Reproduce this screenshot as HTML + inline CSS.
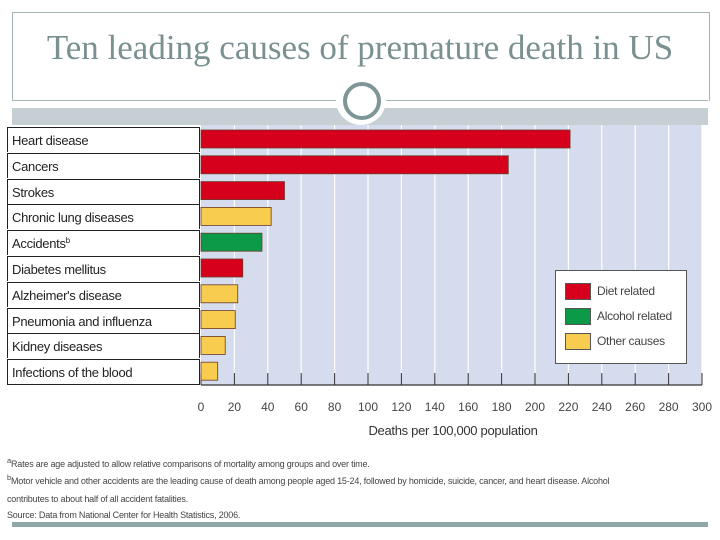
<!DOCTYPE html>
<html><head><meta charset="utf-8"><style>
body{margin:0;width:720px;height:540px;background:#fff;overflow:hidden;position:relative;font-family:"Liberation Sans",sans-serif}
.abs{position:absolute}
.lbl{position:absolute;left:7px;width:193px;height:25px;border:1px solid #222;border-bottom:none;font-size:13px;line-height:26px;padding-left:4px;box-sizing:border-box;color:#222;background:#fff;letter-spacing:-0.3px;white-space:nowrap;overflow:hidden}
.fn{position:absolute;left:7px;font-size:9px;color:#444;white-space:nowrap;letter-spacing:-0.2px}
</style></head><body>
<div class="abs" style="left:12px;top:12px;width:696px;height:88px;border:1px solid #a8b4b4;border-bottom:none"></div>
<div class="abs" style="left:12px;top:28px;width:696px;text-align:center;font-family:'Liberation Serif',serif;font-size:35px;color:#7b9090;white-space:nowrap">Ten leading causes of premature death in US</div>
<div class="abs" style="left:12px;top:100px;width:696px;height:1px;background:#a8b4b4"></div>
<div class="abs" style="left:12px;top:108px;width:696px;height:17px;background:#c6d0d4"></div>
<div class="abs" style="left:336px;top:75px;width:50px;height:50px;border-radius:50%;background:#fff"></div>
<div class="abs" style="left:343px;top:82px;width:30px;height:30px;border-radius:50%;border:4px solid #7e9696"></div>
<div class="abs" style="left:12px;top:522px;width:696px;height:5px;background:#8ea8a7"></div>
<svg class="abs" style="left:0;top:0" width="720" height="540" id="chart"></svg>
<div id="labels"></div>
<div class="abs" style="left:555px;top:270px;width:130px;height:92px;border:1px solid #555;background:#fff;font-size:12px;color:#444;letter-spacing:-0.3px;white-space:nowrap">
<div style="position:absolute;left:9px;top:12px"><span style="display:inline-block;width:24px;height:15px;background:#d6001c;border:1px solid #555;vertical-align:middle"></span><span style="margin-left:6px">Diet related</span></div>
<div style="position:absolute;left:9px;top:37px"><span style="display:inline-block;width:24px;height:15px;background:#0c9a48;border:1px solid #555;vertical-align:middle"></span><span style="margin-left:6px">Alcohol related</span></div>
<div style="position:absolute;left:9px;top:62px"><span style="display:inline-block;width:24px;height:15px;background:#f7cc4f;border:1px solid #555;vertical-align:middle"></span><span style="margin-left:6px">Other causes</span></div>
</div>
<div class="fn" style="top:456px"><sup>a</sup>Rates are age adjusted to allow relative comparisons of mortality among groups and over time.</div>
<div class="fn" style="top:473px"><sup>b</sup>Motor vehicle and other accidents are the leading cause of death among people aged 15-24, followed by homicide, suicide, cancer, and heart disease. Alcohol</div>
<div class="fn" style="top:494px">contributes to about half of all accident fatalities.</div>
<div class="fn" style="top:510px">Source: Data from National Center for Health Statistics, 2006.</div>
<script>
const categories=["Heart disease","Cancers","Strokes","Chronic lung diseases","Accidents","Diabetes mellitus","Alzheimer's disease","Pneumonia and influenza","Kidney diseases","Infections of the blood"];
const values=[221,184,50,42,36.5,25,22,20.5,14.5,10];
const groups=["diet","diet","diet","other","alcohol","diet","other","other","other","other"];
const ticks=[0,20,40,60,80,100,120,140,160,180,200,220,240,260,280,300];
const colors={diet:"#d6001c",alcohol:"#0c9a48",other:"#f7cc4f"};
const NS="http://www.w3.org/2000/svg";
const svg=document.getElementById('chart');
const x0=201,x1=702,top0=127,rowH=25.8;
const xs=v=>x0+(v/300)*(x1-x0);
function mk(t,a){const e=document.createElementNS(NS,t);for(const k in a)e.setAttribute(k,a[k]);svg.appendChild(e);return e;}
const bg=mk('rect',{x:x0,y:125,width:x1-x0,height:260,fill:'#d5dcee'});


ticks.forEach(t=>{
 if(t>0){const g=mk('line',{x1:xs(t),x2:xs(t),y1:125,y2:375,stroke:'#fff','stroke-width':1.2});
 
 }
 const tk=mk('line',{x1:xs(t),x2:xs(t),y1:373,y2:385,stroke:'#333','stroke-width':1});
 
 
 const tl=mk('text',{x:xs(t),y:411,'text-anchor':'middle','font-size':12,fill:'#444','font-family':'Liberation Sans, sans-serif'});
 tl.textContent=t;
 
 
});
const ax=mk('line',{x1:x0,x2:x1,y1:385,y2:385,stroke:'#333','stroke-width':1.2});


const at=mk('text',{x:453,y:435,'text-anchor':'middle','font-size':13,fill:'#333','font-family':'Liberation Sans, sans-serif','letter-spacing':'-0.3'});
at.textContent='Deaths per 100,000 population';


const lab=document.getElementById('labels');
categories.forEach((c,i)=>{
 const y=top0+i*rowH;
 const b=mk('rect',{x:x0,y:y+3,width:xs(values[i])-x0,height:18,fill:colors[groups[i]],stroke:'#6b3a2a','stroke-width':0.8});
 
 
 const d=document.createElement('div');
 d.className='lbl';
 d.style.top=y+'px';
 if(i===categories.length-1){d.style.borderBottom='1px solid #222';d.style.height='26px';}
 d.innerHTML=c+(c==='Accidents'?'<span style="font-size:8px;position:relative;top:-5px">b</span>':'');
 
 
 lab.appendChild(d);
});
</script>
</body></html>
